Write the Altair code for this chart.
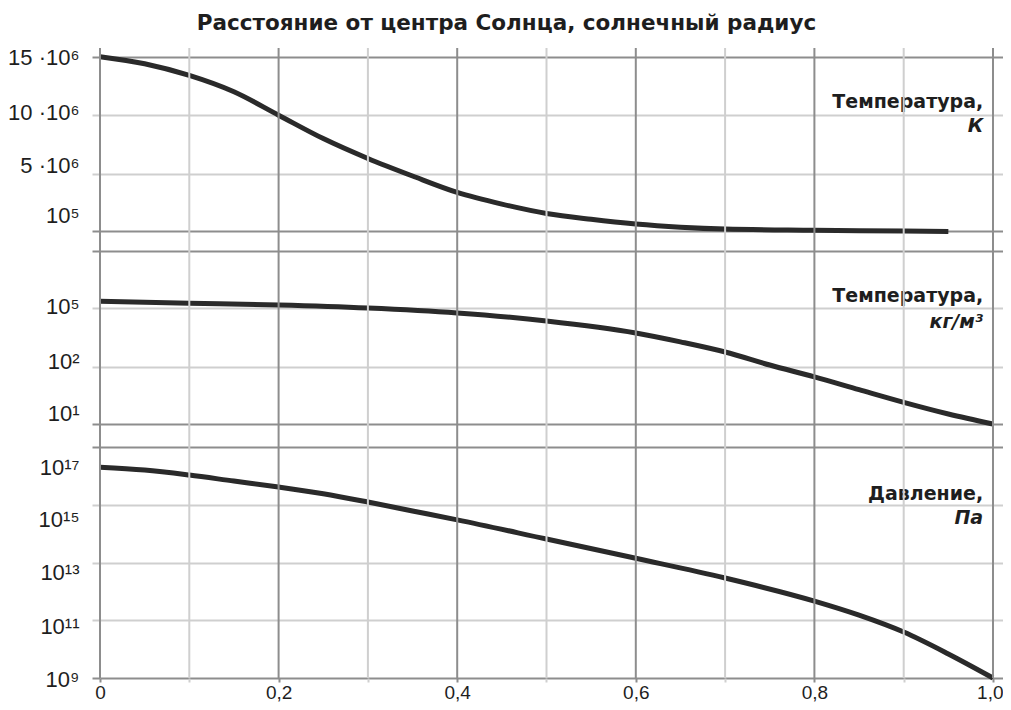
import altair as alt
import pandas as pd

# ---------------- data ----------------
x_grid = [0.0, 0.1, 0.2, 0.3, 0.4, 0.5, 0.6, 0.7, 0.8, 0.9, 1.0]

# Temperature, K
temp_r = [0.0, 0.05, 0.1, 0.15, 0.2, 0.25, 0.3, 0.35, 0.4, 0.45, 0.5, 0.55, 0.6, 0.65, 0.7, 0.8, 0.9, 0.95]
temp_k = [15.0e6, 14.4e6, 13.4e6, 12.0e6, 10.0e6, 8.0e6, 6.3e6, 4.8e6, 3.4e6, 2.4e6, 1.6e6, 1.1e6,
          0.7e6, 0.43e6, 0.27e6, 0.17e6, 0.09e6, 0.06e6]

# Density, kg/m3
dens_r = [0.0, 0.1, 0.2, 0.3, 0.4, 0.5, 0.6, 0.65, 0.7, 0.75, 0.8, 0.85, 0.9, 0.95, 1.0]
dens = [2.3e5, 1.8e5, 1.45e5, 1.0e5, 5.6e4, 2.2e4, 5.4e3, 1.9e3, 5.8e2, 1.26e2, 67, 40, 24, 15, 10]

# Pressure, Pa
pres_r = [0.0, 0.05, 0.1, 0.15, 0.2, 0.25, 0.3, 0.35, 0.4, 0.5, 0.6, 0.7, 0.8, 0.85, 0.9, 0.95, 1.0]
pres = [2.0e16, 1.6e16, 1.07e16, 6.6e15, 4.1e15, 2.4e15, 1.24e15, 6.1e14, 3.0e14, 6.5e13, 1.4e13,
        2.9e12, 4.6e11, 1.5e11, 3.9e10, 6.8e9, 1.0e9]

temp_ticks = [1e5, 5e6, 10e6, 15e6]
temp_tick_labels = ["10⁵", "5 ·10⁶", "10 ·10⁶", "15 ·10⁶"]
dens_ticks = [10, 100, 1e5, 1e8]
dens_tick_labels = ["10¹", "10²", "10⁵", ""]
pres_ticks = [1e9, 1e11, 1e13, 1e15, 1e17]
pres_tick_labels = ["10⁹", "10¹¹", "10¹³", "10¹⁵", "10¹⁷"]

title_text = "Расстояние от центра Солнца, солнечный радиус"
ann_r = 0.989
ann_name = ["Температура,", "Температура,", "Давление,"]
ann_unit = ["К", "кг/м³", "Па"]
ann_name_v = [11.1e6, 4.3e5, 2.4e15]
ann_unit_v = [9.06e6, 1.94e4, 3.5e14]

# ---------------- style ----------------
DARK = "#8d8d8d"
LIGHT = "#cfcfcf"
INK = "#2a2a2a"
TXT = "#1e1e1e"

major_test = "round(datum.value*10) % 2 == 0"
x_axis = alt.Axis(
    values=x_grid, title=None, domain=False, grid=False,
    tickColor={"condition": {"test": major_test, "value": DARK}, "value": LIGHT},
    tickWidth=2, tickSize=4,
    labelExpr=major_test + " ? (datum.value == 0 ? '0' : replace(format(datum.value, '.1f'), '.', ',')) : ''",
    labelFont="Liberation Sans", labelFontSize=19, labelColor=TXT, labelPadding=1,
    labelAlign={"condition": {"test": "datum.value == 1", "value": "right"}, "value": "center"},
    labelOffset={"condition": {"test": "datum.value == 1", "value": 10}, "value": 0},
    labelFlush=False, labelOverlap=False,
)
x_enc = alt.X("r:Q", scale=alt.Scale(domain=[0, 1.0112], nice=False, zero=False), axis=x_axis)

# vertical grid lines spanning all three panels
vgrid = alt.Chart(pd.DataFrame({"r": x_grid})).mark_rule(strokeWidth=2).encode(
    x=x_enc,
    y=alt.value(0),
    y2=alt.value(630),
    color=alt.condition("round(datum.r*10) % 2 == 0", alt.value(DARK), alt.value(LIGHT)),
)


def y_axis(ticks, labels, offsets, dark_ticks):
    vals = [float(v) for v in ticks]
    arr_v = "[" + ",".join(repr(v) for v in vals) + "]"
    arr_l = "[" + ",".join("'" + l + "'" for l in labels) + "]"
    dark_test = " || ".join("datum.value == " + repr(float(v)) for v in dark_ticks)
    off_cond = [{"test": "datum.value == " + repr(v), "value": o} for v, o in zip(vals, offsets) if o]
    return alt.Axis(
        orient="left", values=vals, title=None, domain=False, grid=True,
        gridColor={"condition": {"test": dark_test, "value": DARK}, "value": LIGHT},
        gridWidth=2,
        tickColor={"condition": {"test": dark_test, "value": DARK}, "value": LIGHT},
        tickWidth=2, tickSize=8, labelPadding=13,
        labelExpr=arr_l + "[indexof(" + arr_v + ", datum.value)]",
        labelOffset={"condition": off_cond, "value": 0},
        labelFont="Liberation Sans", labelFontSize=22, labelColor=TXT,
        labelBaseline="middle", labelFlush=False, labelOverlap=False,
    )


def panel(r, v, scale, axis, idx):
    y_enc = alt.Y("v:Q", scale=scale, axis=axis)
    line = alt.Chart(pd.DataFrame({"r": r, "v": v})).mark_line(
        color=INK, strokeWidth=5, interpolate="monotone", strokeCap="butt"
    ).encode(x=x_enc, y=y_enc)
    name = alt.Chart(pd.DataFrame({"r": [ann_r], "v": [ann_name_v[idx]], "t": [ann_name[idx]]})).mark_text(
        font="DejaVu Sans", fontWeight="bold", fontSize=19, align="right", baseline="middle", color=TXT
    ).encode(x=x_enc, y=y_enc, text="t:N")
    unit = alt.Chart(pd.DataFrame({"r": [ann_r], "v": [ann_unit_v[idx]], "t": [ann_unit[idx]]})).mark_text(
        font="DejaVu Sans", fontWeight="bold", fontStyle="italic", fontSize=19, align="right",
        baseline="middle", color=TXT
    ).encode(x=x_enc, y=y_enc, text="t:N")
    return alt.layer(line, name, unit)


top = panel(
    temp_r, temp_k,
    alt.Scale(type="linear", domain=[1e5, 15e6], range=[183, 8.7], nice=False, zero=False),
    y_axis(temp_ticks, temp_tick_labels, [-16, -8, -3, 1], [1e5, 15e6]), 0,
)
mid = panel(
    dens_r, dens,
    alt.Scale(type="log", domain=[10, 100, 1e5, 1e8], range=[376, 319, 260, 203], nice=False),
    y_axis(dens_ticks, dens_tick_labels, [-11, -6, -2, 0], [10, 1e8]), 1,
)
bot = panel(
    pres_r, pres,
    alt.Scale(type="log", domain=[1e9, 1e17], range=[630, 399], nice=False),
    y_axis(pres_ticks, pres_tick_labels, [1, 6, 10, 15, 20], [1e9, 1e17]), 2,
)

chart = alt.layer(top, mid, bot, vgrid).resolve_scale(y="independent").properties(
    width=903, height=630,
    padding={"left": 92, "top": 40, "right": 0, "bottom": 24},
    autosize=alt.AutoSizeParams(type="none"),
    title=alt.TitleParams(
        text=title_text, font="DejaVu Sans", fontSize=21.5, fontWeight="bold", color=TXT,
        anchor="middle", dx=-45, offset=12,
    ),
).configure_view(stroke=None)

chart.save("out.html", embed_options={"renderer": "svg", "actions": False})
